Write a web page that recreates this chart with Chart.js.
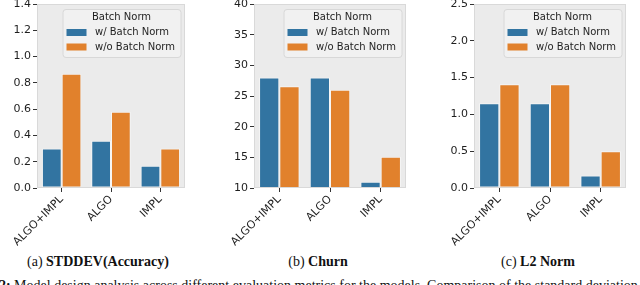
<!DOCTYPE html>
<html>
<head>
<meta charset="utf-8">
<script src="https://cdn.jsdelivr.net/npm/chart.js@4/dist/chart.umd.min.js"></script>
<style>
  html, body { margin: 0; padding: 0; background: #ffffff; width: 640px; height: 285px; overflow: hidden; }
  .wrap { position: absolute; top: 0; height: 250px; }
  .cap { position: absolute; top: 254px; font-family: "Liberation Serif", "Times New Roman", serif; font-size: 14px; line-height: 16px; color: #111; white-space: nowrap; transform: translateX(-50%); }
  .cap b { font-weight: bold; }
  .foot { position: absolute; left: -44px; top: 278px; font-family: "Liberation Serif", "Times New Roman", serif; font-size: 14px; line-height: 16px; color: #111; white-space: nowrap; }
</style>
</head>
<body>
<div class="wrap" style="left:0px;width:195px;"><canvas id="c1" width="195" height="250"></canvas></div>
<div class="wrap" style="left:215px;width:201px;"><canvas id="c2" width="201" height="250"></canvas></div>
<div class="wrap" style="left:425px;width:211px;"><canvas id="c3" width="211" height="250"></canvas></div>
<div class="cap" style="left:98px;">(a) <b>STDDEV(Accuracy)</b></div>
<div class="cap" style="left:318px;">(b) <b>Churn</b></div>
<div class="cap" style="left:538px;">(c) <b>L2 Norm</b></div>
<div class="foot"><b>Figure 2:</b> Model design analysis across different evaluation metrics for the models. Comparison of the standard deviation of</div>
<script>
// ---- data ----
const categories = ["ALGO+IMPL", "ALGO", "IMPL"];
const seriesLabels = ["w/ Batch Norm", "w/o Batch Norm"];
const legendTitle = "Batch Norm";

const stddevWithBN = [0.30, 0.36, 0.17];
const stddevWithoutBN = [0.87, 0.58, 0.30];

const churnWithBN = [28.0, 28.0, 11.0];
const churnWithoutBN = [26.6, 26.0, 15.1];

const l2WithBN = [1.15, 1.15, 0.17];
const l2WithoutBN = [1.41, 1.41, 0.50];

const stddevTicks = { min: 0, max: 1.4, step: 0.2, decimals: 1 };
const churnTicks = { min: 10, max: 40, step: 5, decimals: 0 };
const l2Ticks = { min: 0, max: 2.5, step: 0.5, decimals: 1 };

// ---- styling ----
const BLUE = "#3274a1";
const ORANGE = "#e1812c";
const TICK_FONT = { family: "DejaVu Sans", size: 11 };
const TEXT = "#1e1e1e";

const panelPlugin = {
  id: "panelDeco",
  beforeDatasetsDraw(chart) {
    const a = chart.chartArea, ctx = chart.ctx;
    ctx.save();
    ctx.fillStyle = "#ebebeb";
    ctx.fillRect(a.left, a.top, a.right - a.left, a.bottom - a.top);
    ctx.restore();
  },
  afterDatasetsDraw(chart) {
    const a = chart.chartArea, ctx = chart.ctx;
    ctx.save();
    ctx.strokeStyle = "#d9d9d9";
    ctx.lineWidth = 1;
    ctx.strokeRect(a.left + 0.5, a.top + 0.5, a.right - a.left - 1, a.bottom - a.top - 1);
    // legend
    const w = 118, h = 48;
    const x = a.right - 4.5 - w, y = a.top + 5;
    ctx.fillStyle = "rgba(242,242,242,0.85)";
    ctx.strokeStyle = "#d8d8d8";
    ctx.beginPath();
    if (ctx.roundRect) ctx.roundRect(x + 0.5, y + 0.5, w, h, 3); else ctx.rect(x + 0.5, y + 0.5, w, h);
    ctx.fill(); ctx.stroke();
    ctx.fillStyle = TEXT;
    ctx.font = "10px 'DejaVu Sans'";
    ctx.textBaseline = "middle";
    ctx.textAlign = "center";
    ctx.fillText(legendTitle, x + w / 2, y + 8.5);
    ctx.textAlign = "left";
    chart.data.datasets.forEach((ds, i) => {
      const cy = y + 23.5 + i * 14.5;
      ctx.fillStyle = ds.backgroundColor;
      ctx.fillRect(x + 4, cy - 3.5, 20, 7);
      ctx.fillStyle = TEXT;
      ctx.fillText(ds.label, x + 32.5, cy);
    });
    ctx.restore();
  }
};

function makePanel(id, yAxisWidth, plotRight, canvasW, t, d1, d2) {
  const xAxisHeight = 60;
  new Chart(document.getElementById(id), {
    type: "bar",
    data: {
      labels: categories,
      datasets: [
        { label: seriesLabels[0], data: d1, backgroundColor: BLUE, borderColor: "rgba(255,255,255,0.55)", borderWidth: 1, borderSkipped: false },
        { label: seriesLabels[1], data: d2, backgroundColor: ORANGE, borderColor: "rgba(255,255,255,0.55)", borderWidth: 1, borderSkipped: false }
      ]
    },
    options: {
      responsive: false,
      animation: false,
      devicePixelRatio: 1,
      layout: { padding: { top: 4, right: canvasW - plotRight, bottom: 250 - 188 - xAxisHeight, left: 0 } },
      datasets: { bar: { categoryPercentage: 0.8, barPercentage: 1.0 } },
      plugins: { legend: { display: false }, tooltip: { enabled: false } },
      scales: {
        x: {
          type: "category",
          offset: true,
          border: { display: false },
          grid: { offset: false, drawOnChartArea: false, drawTicks: true, tickLength: 4, tickColor: "#333", tickWidth: 1 },
          ticks: { font: TICK_FONT, color: TEXT, minRotation: 45, maxRotation: 45, padding: 1, autoSkip: false },
          afterFit(s) { s.height = xAxisHeight; s.paddingLeft = 0; s.paddingRight = 0; }
        },
        y: {
          min: t.min, max: t.max,
          border: { display: false },
          grid: { drawOnChartArea: false, drawTicks: true, tickLength: 4, tickColor: "#333", tickWidth: 1 },
          ticks: { stepSize: t.step, font: TICK_FONT, color: TEXT, padding: 2,
                   callback: v => Number(v).toFixed(t.decimals) },
          afterFit(s) { s.width = yAxisWidth; s.paddingTop = 0; s.paddingBottom = 0; }
        }
      }
    },
    plugins: [panelPlugin]
  });
}

makePanel("c1", 37, 185, 195, stddevTicks, stddevWithBN, stddevWithoutBN);
makePanel("c2", 39, 191, 201, churnTicks, churnWithBN, churnWithoutBN);
makePanel("c3", 49, 201, 211, l2Ticks, l2WithBN, l2WithoutBN);
</script>
</body>
</html>
